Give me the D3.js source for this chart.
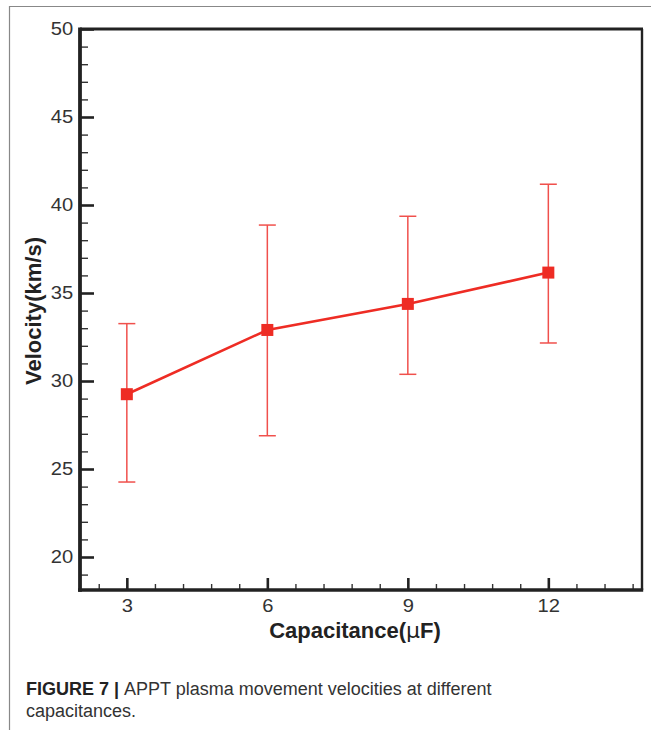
<!DOCTYPE html>
<html>
<head>
<meta charset="utf-8">
<script src="https://cdn.jsdelivr.net/npm/d3@7"></script>
<style>
  html, body { margin: 0; padding: 0; background: #fff; }
  svg { display: block; }
</style>
</head>
<body>
<svg></svg>
<script>
// data
const capacitance = [3, 6, 9, 12];
const velocity = [29.25, 32.9, 34.38, 36.16];
const errUpper = [33.26, 38.86, 39.36, 41.18];
const errLower = [24.26, 26.89, 30.38, 32.16];

const xTicks = [3, 6, 9, 12];
const yTicks = [20, 25, 30, 35, 40, 45, 50];

const svg = d3.select("svg");

// prettier-ignore
svg
    .attr("width", 651)
    .attr("height", 730);

// page frame lines
svg.append("line")
  .attr("x1", 9).attr("x2", 651).attr("y1", 6.5).attr("y2", 6.5)
  .attr("stroke", "#888").attr("stroke-width", 1.2);
svg.append("line")
  .attr("x1", 9.5).attr("x2", 9.5).attr("y1", 6).attr("y2", 730)
  .attr("stroke", "#888").attr("stroke-width", 1.2);

const plotLeft = 80, plotRight = 642, plotTop = 29, plotBottom = 590;

const x = d3.scaleLinear().domain([2, 14]).range([plotLeft, plotRight]);
const y = d3.scaleLinear().domain([18.125, 50]).range([plotBottom, plotTop]);

// minor tick positions
const xMinor = d3.range(2.4, 14, 0.6).filter(v => !xTicks.some(t => Math.abs(t - v) < 1e-6));
const yMinor = d3.range(19, 50, 1).filter(v => v % 5 !== 0);

const tickFont = "Liberation Sans, Arial, sans-serif";

// y axis: major ticks pointing inward, labels outside
const yAxis = svg.append("g")
  .attr("transform", `translate(${plotLeft},0)`)
  .call(d3.axisLeft(y).tickValues(yTicks).tickSize(-14).tickPadding(6).tickSizeOuter(0));
yAxis.select(".domain").remove();
yAxis.selectAll(".tick line").attr("stroke", "#222").attr("stroke-width", 2.6);
yAxis.selectAll(".tick text")
  .attr("font-family", tickFont).attr("font-size", 18).attr("fill", "#333")
  .attr("transform", "scale(1.12,1)");

const yMinorG = svg.append("g")
  .attr("transform", `translate(${plotLeft},0)`)
  .call(d3.axisLeft(y).tickValues(yMinor).tickSize(-8).tickFormat(""));
yMinorG.select(".domain").remove();
yMinorG.selectAll(".tick line").attr("stroke", "#333").attr("stroke-width", 1.4);

// x axis
const xAxis = svg.append("g")
  .attr("transform", `translate(0,${plotBottom})`)
  .call(d3.axisBottom(x).tickValues(xTicks).tickSize(-12).tickPadding(9).tickSizeOuter(0));
xAxis.select(".domain").remove();
xAxis.selectAll(".tick line").attr("stroke", "#222").attr("stroke-width", 2.6);
xAxis.selectAll(".tick text")
  .attr("font-family", tickFont).attr("font-size", 18).attr("fill", "#333")
  .attr("transform", "scale(1.12,1)");

const xMinorG = svg.append("g")
  .attr("transform", `translate(0,${plotBottom})`)
  .call(d3.axisBottom(x).tickValues(xMinor).tickSize(-6).tickFormat(""));
xMinorG.select(".domain").remove();
xMinorG.selectAll(".tick line").attr("stroke", "#333").attr("stroke-width", 1.4);

// plot box
svg.append("line").attr("x1", plotLeft).attr("x2", plotRight + 1).attr("y1", plotTop).attr("y2", plotTop)
  .attr("stroke", "#222").attr("stroke-width", 2.8);
svg.append("line").attr("x1", plotRight).attr("x2", plotRight).attr("y1", plotTop).attr("y2", plotBottom)
  .attr("stroke", "#222").attr("stroke-width", 2.4);
svg.append("line").attr("x1", plotLeft).attr("x2", plotLeft).attr("y1", plotTop - 1.4).attr("y2", plotBottom + 1.8)
  .attr("stroke", "#222").attr("stroke-width", 3.8);
svg.append("line").attr("x1", plotLeft - 1.9).attr("x2", plotRight + 1.2).attr("y1", plotBottom).attr("y2", plotBottom)
  .attr("stroke", "#222").attr("stroke-width", 3.6);

const red = "#ee2c24";
const errRed = "#f0504c";

// error bars
const errG = svg.append("g");
capacitance.forEach((c, i) => {
  errG.append("line")
    .attr("x1", x(c)).attr("x2", x(c))
    .attr("y1", y(errUpper[i])).attr("y2", y(errLower[i]))
    .attr("stroke", errRed).attr("stroke-width", 1.5);
  [errUpper[i], errLower[i]].forEach(v => {
    errG.append("line")
      .attr("x1", x(c) - 8.5).attr("x2", x(c) + 8.5)
      .attr("y1", y(v)).attr("y2", y(v))
      .attr("stroke", errRed).attr("stroke-width", 1.5);
  });
});

// line
const line = d3.line().x((d, i) => x(capacitance[i])).y(d => y(d));
svg.append("path")
  .datum(velocity)
  .attr("d", line)
  .attr("fill", "none")
  .attr("stroke", red)
  .attr("stroke-width", 2.6);

// square markers
svg.selectAll("rect.marker")
  .data(velocity)
  .enter()
  .append("rect")
  .attr("class", "marker")
  .attr("x", (d, i) => x(capacitance[i]) - 6)
  .attr("y", d => y(d) - 6)
  .attr("width", 12)
  .attr("height", 12)
  .attr("fill", red);

// axis titles
svg.append("text")
  .attr("transform", `translate(41,311) rotate(-90)`)
  .attr("text-anchor", "middle")
  .attr("font-family", tickFont)
  .attr("font-weight", "bold")
  .attr("font-size", 22)
  .attr("fill", "#222")
  .text("Velocity(km/s)");

const xTitle = svg.append("text")
  .attr("x", 355)
  .attr("y", 638)
  .attr("text-anchor", "middle")
  .attr("font-family", tickFont)
  .attr("font-weight", "bold")
  .attr("font-size", 22)
  .attr("fill", "#222");
xTitle.append("tspan").text("Capacitance(");
xTitle.append("tspan").attr("font-weight", "normal").attr("font-family", "DejaVu Sans, sans-serif").text("μ");
xTitle.append("tspan").text("F)");

// caption
const capFont = "'Liberation Sans', Arial, sans-serif";
const cap1 = svg.append("text")
  .attr("x", 26).attr("y", 695)
  .attr("font-family", capFont).attr("font-size", 18).attr("fill", "#333");
cap1.append("tspan").attr("font-weight", "bold").attr("fill", "#222").text("FIGURE 7 | ");
cap1.append("tspan").text("APPT plasma movement velocities at different");
svg.append("text")
  .attr("x", 26).attr("y", 717)
  .attr("font-family", capFont).attr("font-size", 18).attr("fill", "#333")
  .text("capacitances.");
</script>
</body>
</html>
